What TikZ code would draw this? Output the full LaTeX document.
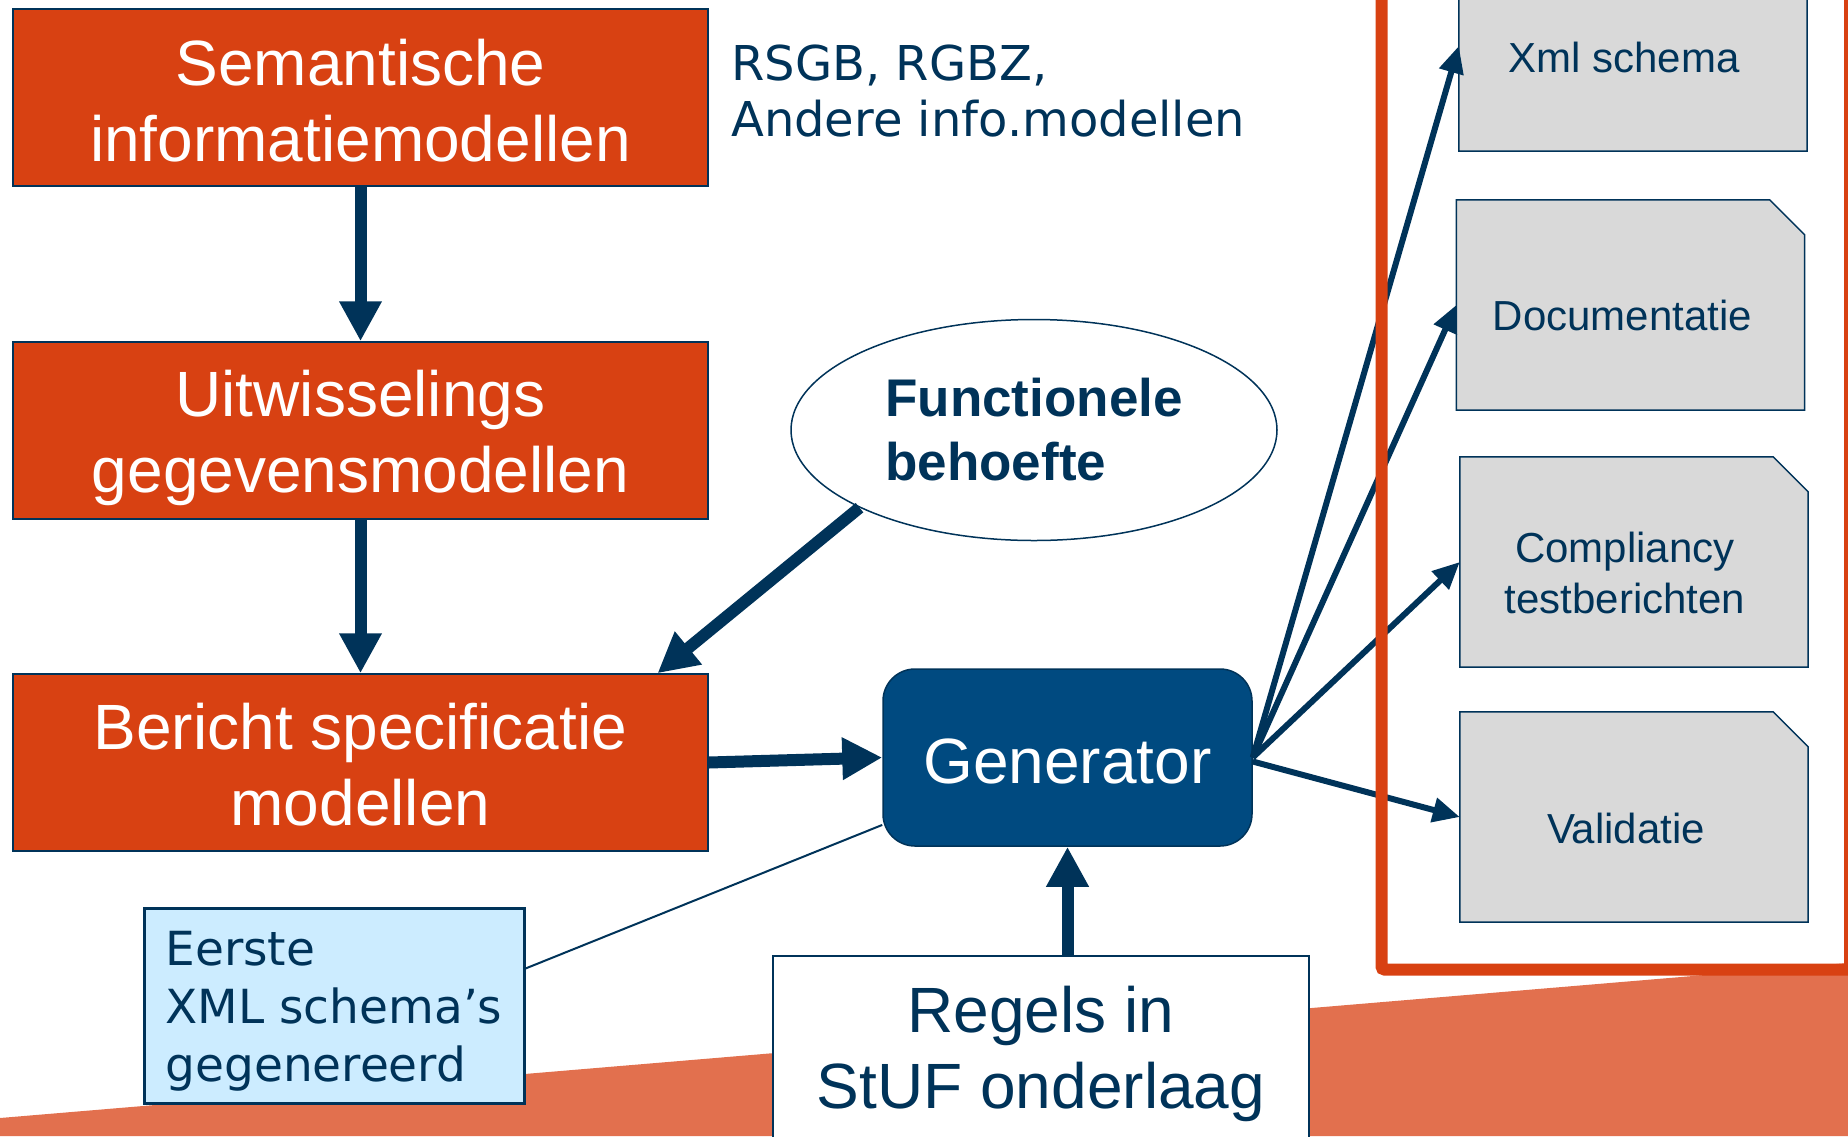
\documentclass[tikz,border=0pt]{standalone}
\usepackage{fontspec}
\setmainfont{Liberation Sans}
\newfontfamily\verd{DejaVu Sans}
\usetikzlibrary{arrows.meta,shapes.geometric,calc}
\definecolor{navy}{RGB}{0,51,89}
\definecolor{boxorange}{RGB}{216,65,18}
\definecolor{bgorange}{RGB}{226,112,78}
\definecolor{genblue}{RGB}{0,74,128}
\definecolor{lightblue}{RGB}{204,236,255}
\definecolor{boxgray}{RGB}{217,217,217}
\begin{document}
\begin{tikzpicture}[x=1pt,y=-1pt,
  orangebox/.style={rectangle, fill=boxorange, draw=navy, line width=1.5pt,
    minimum width=695pt, minimum height=177pt, text=white, align=center,
    font=\fontsize{64pt}{76pt}\selectfont, inner sep=0pt},
  genbox/.style={rectangle, rounded corners=32pt, fill=genblue, draw=navy, line width=1.5pt,
    minimum width=369pt, minimum height=177pt, text=white,
    font=\fontsize{64pt}{77pt}\selectfont, inner sep=0pt},
  ellbox/.style={ellipse, fill=white, draw=navy, line width=1.5pt,
    minimum width=486pt, minimum height=221pt, text=navy, align=left,
    font=\bfseries\fontsize{53pt}{64pt}\selectfont, inner sep=0pt},
  regelsbox/.style={rectangle, fill=white, draw=navy, line width=1.5pt,
    minimum width=536pt, minimum height=196pt, text=navy, align=center,
    font=\fontsize{64pt}{76pt}\selectfont, inner sep=0pt},
  eerstebox/.style={rectangle, fill=lightblue, draw=navy, line width=3pt,
    minimum width=380pt, minimum height=195pt, text=navy, align=left,
    font=\verd\fontsize{47pt}{58pt}\selectfont, inner sep=0pt},
  grayslot/.style={rectangle, draw=none, minimum width=348pt, minimum height=210pt, inner sep=0pt},
  grayshape/.style={fill=boxgray, draw=navy, line width=1.5pt},
  graytext/.style={text=navy, align=center, font=\fontsize{42pt}{51pt}\selectfont, inner sep=0pt},
  bigarrow/.style={draw=navy, line width=12pt, -{Triangle[length=40pt,width=40pt]}},
  medarrow/.style={draw=navy, line width=6pt, -{Triangle[length=27pt,width=24pt]}},
  thinline/.style={draw=navy, line width=2pt},
  frameline/.style={draw=boxorange, line width=12pt, rounded corners=3pt}
]
\useasboundingbox (0,0) rectangle (1848,1136);
% background wedge
\fill[bgorange] (0,1118) -- (1848,963) -- (1848,1136) -- (0,1136) -- cycle;

% left column
\node[orangebox] (b1) at (360.5,97.5) {\rule{0pt}{53pt}Semantische\\informatiemodellen};
\node[orangebox] (b2) at (360.5,430.5) {\rule{0pt}{62pt}Uitwisselings\\gegevensmodellen};
\node[orangebox] (b3) at (360.5,762.5) {\rule{0pt}{51pt}Bericht specificatie\\modellen};

\node[anchor=west, align=left, text=navy, inner sep=0pt,
      font=\verd\fontsize{48pt}{56pt}\selectfont] (rsgb) at (731,91.5)
      {RSGB, RGBZ,\\Andere info.modellen};

\node[ellbox] (fb) at (1034,430) {Functionele\\behoefte};
\node[genbox] (gen) at (1067.5,757.5) {\rule{0pt}{53pt}Generator};
\node[regelsbox, anchor=north] (reg) at (1041,955) {Regels in\\StUF onderlaag};
\node[eerstebox] (eer) at (334,1005.5) {\rule{0pt}{46pt}Eerste\\XML schema’s\\gegenereerd};

% right column boxes
\node[grayslot] (xml) at (1633,46) {};
\node[grayslot] (doc) at (1630.5,305) {};
\node[grayslot] (comp) at (1634,562) {};
\node[grayslot] (val) at (1634,817) {};
\foreach \n in {xml,doc,comp,val}{
  \filldraw[grayshape] (\n.north west) -- ($(\n.north east)+(-35,0)$)
    -- ($(\n.north east)+(0,35)$) -- (\n.south east) -- (\n.south west) -- cycle;
}
\node[graytext] (xmlt) at ($(xml.center)+(-9,11)$) {Xml schema};
\node[graytext] (doct) at ($(doc.center)+(-8,10)$) {Documentatie};
\node[graytext] (compt) at ($(comp.center)+(-9,11)$) {Compliancy\\testberichten};
\node[graytext] (valt) at ($(val.center)+(-8,11)$) {Validatie};

% connectors
\draw[bigarrow] (b1.south) -- (b2.north);
\draw[bigarrow] (b2.south) -- (b3.north);
\draw[bigarrow] (fb.204) -- ($(b3.north)+(297,0)$);
\draw[bigarrow] (b3.east) -- (gen.west);
\draw[bigarrow] (gen.south |- reg.north) -- (gen.south);
\draw[thinline] (gen.200) -- ($(eer.east)+(0,-37)$);

\draw[medarrow] (gen.east) -- (xml.west);
\draw[medarrow] (gen.east) -- (doc.west);
\draw[medarrow] (gen.east) -- (comp.west);
\draw[medarrow] ($(gen.east)+(0,4)$) -- (val.west);

% red frame
\draw[frameline] (1381.5,-30) -- (1381.5,969.5) -- (1850,969.5) -- (1850,-30);
\end{tikzpicture}
\end{document}
